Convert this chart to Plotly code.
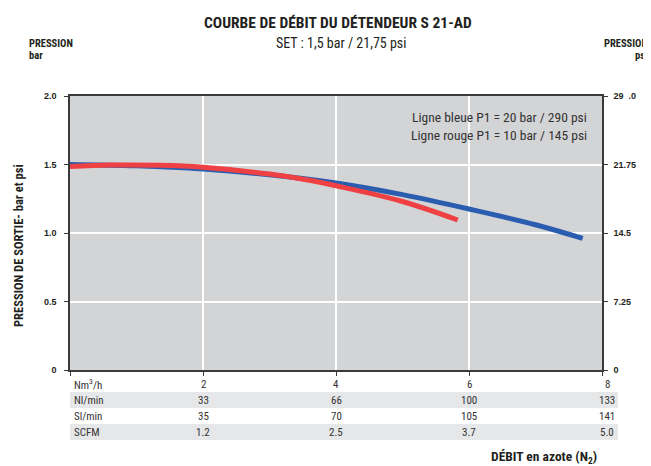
import plotly.graph_objects as go

# ---- data ----
blue_x = [0, 1, 2, 3, 4, 5, 6, 7, 7.71]
blue_y = [1.50, 1.49, 1.467, 1.425, 1.365, 1.28, 1.175, 1.06, 0.96]
red_x = [0, 0.6, 1.35, 2, 3, 3.6, 4, 5, 5.83]
red_y = [1.485, 1.496, 1.494, 1.48, 1.43, 1.385, 1.345, 1.23, 1.095]

left_ticks = [0, 0.5, 1.0, 1.5, 2.0]
left_text = ["0", "0.5", "1.0", "1.5", "2.0"]
right_ticks = [0, 7.25, 14.5, 21.75, 29]
right_text = ["0", "7.25", "14.5", "21.75", "29  .0"]

flow_x = [2, 4, 6, 8]
row_labels = ["Nm<sup>3</sup>/h", "Nl/min", "Sl/min", "SCFM"]
row_nm3h = ["2", "4", "6", "8"]
row_nlmin = ["33", "66", "100", "133"]
row_slmin = ["35", "70", "105", "141"]
row_scfm = ["1.2", "2.5", "3.7", "5.0"]

COND = "Roboto Condensed, DejaVu Sans Condensed, sans-serif"
BOLDTICK = "Liberation Sans, Arial, sans-serif"
TXT = "#231f20"
GREY = "#333333"

# page body has an 8px margin: figure is drawn from (8, 8)
OFF = 8
W, H = 651 - OFF, 466 - OFF
# plot area in page pixels: x 70..602, y 96..370
L, T = 70 - OFF, 96 - OFF
R, B = W - (602 - OFF), H - (370 - OFF)
pw, ph = W - L - R, H - T - B


def px(xp):  # page pixel x -> paper
    return (xp - OFF - L) / pw


def py(yp):  # page pixel y -> paper
    return (H - B - (yp - OFF)) / ph


fig = go.Figure()
fig.add_trace(go.Scatter(x=blue_x, y=blue_y, mode="lines",
                         line=dict(color="#2a5db0", width=5, shape="spline"),
                         hoverinfo="skip", showlegend=False))
fig.add_trace(go.Scatter(x=red_x, y=red_y, mode="lines",
                         line=dict(color="#ef4043", width=5, shape="spline"),
                         hoverinfo="skip", showlegend=False))
fig.add_trace(go.Scatter(x=[0], y=[0], yaxis="y2", mode="markers",
                         marker=dict(opacity=0), hoverinfo="skip", showlegend=False))

fig.update_layout(
    width=W, height=H,
    margin=dict(l=L, r=R, t=T, b=B, autoexpand=False),
    paper_bgcolor="white", plot_bgcolor="#d3d4d6",
    showlegend=False,
    xaxis=dict(range=[0, 8], tickvals=[0, 2, 4, 6, 8], showticklabels=False,
               ticks="outside", ticklen=4, tickcolor="#3a3a3a", automargin=False,
               showgrid=True, gridcolor="white", gridwidth=1.5,
               showline=True, linecolor="#3a3a3a", linewidth=1.5, mirror=True,
               zeroline=False),
    yaxis=dict(range=[0, 2.0], tickvals=left_ticks, ticktext=left_text,
               ticks="outside", ticklen=4, tickcolor="#3a3a3a", automargin=False,
               tickfont=dict(family=BOLDTICK, size=9, color=TXT, weight="bold"),
               showgrid=True, gridcolor="white", gridwidth=1.5,
               showline=True, linecolor="#3a3a3a", linewidth=1.5,
               zeroline=False, ticklabelstandoff=6),
    yaxis2=dict(range=[0, 29], overlaying="y", side="right", automargin=False,
                tickvals=right_ticks, ticktext=right_text,
                ticks="outside", ticklen=4, tickcolor="#3a3a3a",
                tickfont=dict(family=BOLDTICK, size=9, color=TXT, weight="bold"),
                showgrid=False, showline=True, linecolor="#3a3a3a", linewidth=1.5,
                zeroline=False, ticklabelstandoff=4),
)

ann = [
    dict(text="<b>COURBE DE DÉBIT DU DÉTENDEUR S 21-AD</b>", x=px(338), y=py(23),
         xanchor="center", font=dict(family=COND, size=15.5, color=TXT)),
    dict(text="SET : 1,5 bar / 21,75 psi", x=px(341), y=py(43),
         xanchor="center", font=dict(family=COND, size=14, color=TXT)),
    dict(text="<b>PRESSION</b>", x=px(27), y=py(43), xanchor="left",
         font=dict(family=COND, size=10.5, color=TXT)),
    dict(text="<b>bar</b>", x=px(27), y=py(56), xanchor="left",
         font=dict(family=COND, size=10.5, color=TXT)),
    dict(text="<b>PRESSION</b>", x=px(650), y=py(43), xanchor="right",
         font=dict(family=COND, size=10.5, color=TXT)),
    dict(text="<b>psi</b>", x=px(650), y=py(56), xanchor="right",
         font=dict(family=COND, size=10.5, color=TXT)),
    dict(text="<b>PRESSION DE SORTIE- bar et psi</b>", x=px(18), y=py(246), textangle=-90,
         xanchor="center", font=dict(family=COND, size=12.5, color=TXT)),
    dict(text="Ligne bleue P1 = 20 bar / 290 psi", x=px(589), y=py(117), xanchor="right",
         font=dict(family=COND, size=13.5, color=GREY)),
    dict(text="Ligne rouge P1 = 10 bar / 145 psi", x=px(589), y=py(135), xanchor="right",
         font=dict(family=COND, size=13.5, color=GREY)),
    dict(text="<b>DÉBIT en azote (N<sub>2</sub>)</b>", x=px(544), y=py(457),
         xanchor="center", font=dict(family=COND, size=13.5, color=TXT)),
]
for a in ann:
    a.update(xref="paper", yref="paper", showarrow=False, yanchor="middle")

rows = [row_nm3h, row_nlmin, row_slmin, row_scfm]
row_y = [384, 400, 416, 432]
shapes = []
for i, (lab, vals, yp) in enumerate(zip(row_labels, rows, row_y)):
    if i % 2 == 1:
        shapes.append(dict(type="rect", xref="paper", yref="paper",
                           x0=px(70), x1=px(618), y0=py(yp + 8), y1=py(yp - 8),
                           fillcolor="#e6e7e8", line=dict(width=0), layer="below"))
    ann.append(dict(text=lab, x=px(72), y=py(yp), xref="paper", yref="paper",
                    xanchor="left", yanchor="middle", showarrow=False,
                    font=dict(family=COND, size=11, color=GREY)))
    for xv, v in zip(flow_x, vals):
        ann.append(dict(text=v, x=xv, y=py(yp), xref="x", yref="paper",
                        xanchor="center", yanchor="middle",
                        xshift=5 if xv == 8 else 0, showarrow=False,
                        font=dict(family=COND, size=11, color=GREY)))

fig.update_layout(annotations=ann, shapes=shapes)
fig.write_html("out.html")
